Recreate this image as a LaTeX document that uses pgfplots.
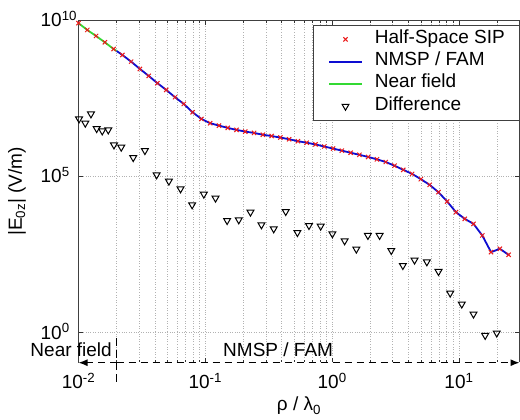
\documentclass[border=0pt]{standalone}
\usepackage{fontspec}
\setmainfont{Liberation Sans}
\usepackage{pgfplots}
\usepackage{pgfplotstable}
\pgfplotsset{compat=1.18}
\usetikzlibrary{arrows.meta}
\definecolor{mblue}{rgb}{0.05,0.05,0.82}
\definecolor{mgreen}{rgb}{0.2,0.85,0.2}
\definecolor{mred}{rgb}{0.92,0.1,0.1}
\definecolor{gridc}{rgb}{0.7,0.7,0.7}

\pgfplotstableread{
x y
0.01000 7.94e9
0.011727 4.80e9
0.013752 3.08e9
0.016127 1.94e9
0.018912 1.18e9
0.022178 7.62e8
0.026008 4.66e8
0.030500 2.72e8
0.035767 1.63e8
0.041944 9.51e7
0.049187 5.81e7
0.057682 3.39e7
0.067643 2.07e7
0.079326 1.12e7
0.09313 6.87e6
0.10921 5.01e6
0.12808 4.20e6
0.15020 3.55e6
0.17614 3.06e6
0.20656 2.70e6
0.24224 2.45e6
0.28407 2.14e6
0.33314 1.95e6
0.39068 1.74e6
0.45815 1.54e6
0.53728 1.33e6
0.63009 1.19e6
0.73892 1.05e6
0.86655 9.02e5
1.0171 7.73e5
1.1928 6.64e5
1.3988 5.69e5
1.6404 4.89e5
1.9237 4.17e5
2.2560 3.51e5
2.6457 2.88e5
3.1026 2.19e5
3.6386 1.62e5
4.2670 1.20e5
5.0040 8.15e4
5.8683 5.35e4
6.8819 3.13e4
8.0706 1.57e4
9.4646 7.18e3
11.099 4.39e3
13.017 3.03e3
15.265 1.29e3
17.901 378
20.993 483
24.619 310
}\sipdata

\pgfplotstableread{
x y
0.01000 7.94e9
0.011727 4.80e9
0.013752 3.08e9
0.016127 1.94e9
0.018912 1.18e9
0.02 1.02e9
}\neardata

\pgfplotstableread{
x y
0.02 1.02e9
0.022178 7.62e8
0.026008 4.66e8
0.030500 2.72e8
0.035767 1.63e8
0.041944 9.51e7
0.049187 5.81e7
0.057682 3.39e7
0.067643 2.07e7
0.079326 1.12e7
0.09313 6.87e6
0.10921 5.01e6
0.12808 4.20e6
0.15020 3.55e6
0.17614 3.06e6
0.20656 2.70e6
0.24224 2.45e6
0.28407 2.14e6
0.33314 1.95e6
0.39068 1.74e6
0.45815 1.54e6
0.53728 1.33e6
0.63009 1.19e6
0.73892 1.05e6
0.86655 9.02e5
1.0171 7.73e5
1.1928 6.64e5
1.3988 5.69e5
1.6404 4.89e5
1.9237 4.17e5
2.2560 3.51e5
2.6457 2.88e5
3.1026 2.19e5
3.6386 1.62e5
4.2670 1.20e5
5.0040 8.15e4
5.8683 5.35e4
6.8819 3.13e4
8.0706 1.57e4
9.4646 7.18e3
11.099 4.39e3
13.017 3.03e3
15.265 1.29e3
17.901 378
20.993 483
24.619 310
}\fardata

\pgfplotstableread{
x y
0.0101 6.87e6
0.01131 5.01e6
0.01254 9.93e6
0.01391 3.37e6
0.01539 2.84e6
0.01717 3.06e6
0.01904 1.01e6
0.02173 8.57e5
0.02701 3.99e5
0.03339 6.67e5
0.04128 1.12e5
0.0516 7.03e4
0.06377 3.99e4
0.07873 1.23e4
0.09732 2.70e4
0.1203 2.01e4
0.1485 3.87e3
0.1835 4.07e3
0.2269 7.18e3
0.2770 2.82e3
0.3462 2.10e3
0.4304 7.50e3
0.5321 1.60e3
0.6565 2.68e3
0.8117 2.56e3
1.004 1.46e3
1.254 869
1.551 472
1.914 1.29e3
2.366 1.29e3
2.925 426
3.610 141
4.462 210
5.579 185
6.896 90.8
8.524 18.5
10.52 8.26
13.01 3.95
16.08 0.82
19.85 0.977
}\diffdata

\begin{document}
\begin{tikzpicture}[font=\fontsize{19}{23}\selectfont]
\begin{axis}[
  scale only axis, width=441pt, height=342.7pt,
  xmode=log, ymode=log,
  xmin=0.01, xmax=30, ymin=0.11, ymax=1e10,
  clip=false,
  xtick={0.01,0.1,1,10},
  xticklabels={10\textsuperscript{-2},10\textsuperscript{-1},10\textsuperscript{0},10\textsuperscript{1}},
  minor xtick={0.02,0.03,0.04,0.05,0.06,0.07,0.08,0.09,0.2,0.3,0.4,0.5,0.6,0.7,0.8,0.9,2,3,4,5,6,7,8,9,20},
  ytick={1,1e5,1e10},
  yticklabels={10\rlap{\textsuperscript{0}},10\rlap{\textsuperscript{5}},10\rlap{\textsuperscript{10}}},
  yminorticks=false,
  xmajorgrids, xminorgrids, ymajorgrids,
  grid style={gridc, dotted, line width=0.6pt},
  minor grid style={gridc, dotted, line width=0.6pt},
  major tick length=5pt, minor tick length=3pt,
  tick style={black!80, line width=0.6pt},
  axis line style={black!75, line width=0.8pt},
  tick label style={font=\fontsize{19}{23}\selectfont},
  xticklabel style={anchor=base, yshift=-25.6pt, inner sep=0pt},
  yticklabel style={anchor=base east, xshift=-16.5pt, yshift=-6.3pt, inner sep=0pt},
  xlabel={ρ / λ\textsubscript{0}},
  ylabel={|E\textsubscript{0z}| (V/m)},
  label style={font=\fontsize{19}{23}\selectfont},
  xlabel style={at={(axis description cs:0.5,-0.0992)}, anchor=north, inner sep=0pt},
  ylabel style={at={(axis description cs:-0.16,0.5)}, anchor=north, inner sep=0pt},
  legend style={at={(1,0.9854)}, anchor=north east, draw=black!75, fill=white,
    inner xsep=14.5pt, inner ysep=3pt, row sep=0pt, column sep=12pt,
    nodes={inner sep=0pt, text height=15pt, text depth=7.3pt},
    font=\fontsize{19}{23}\selectfont},
  legend cell align=left,
  legend image code/.code={\draw[mark repeat=2,mark phase=2,#1] plot coordinates {(0pt,0pt) (16.5pt,0pt) (33pt,0pt)};},
]
\addlegendimage{only marks, mark=x, mark size=3pt, mred, mark options={line width=1pt}}
\addlegendentry{Half-Space SIP}
\addlegendimage{mblue, line width=1.8pt}
\addlegendentry{NMSP / FAM}
\addlegendimage{mgreen, line width=1.8pt}
\addlegendentry{Near field}
\addlegendimage{only marks, mark=triangle, mark size=4pt, mark options={rotate=180, draw=black, fill=white, line width=1pt}}
\addlegendentry{Difference}

\addplot[mgreen, line width=1.8pt, forget plot] table[x=x,y=y] {\neardata};
\addplot[mblue, line width=1.8pt, forget plot] table[x=x,y=y] {\fardata};
\addplot[only marks, mark=triangle, mark size=4pt, mark options={rotate=180, draw=black, fill=white, line width=1pt}, forget plot] table[x=x,y=y] {\diffdata};
\addplot[only marks, mark=x, mark size=3pt, mred, mark options={line width=1pt}, forget plot] table[x=x,y=y] {\sipdata};

\node[anchor=base east, inner sep=0pt] at (axis description cs:0.076,0.0187) {Near field};
\node[anchor=base west, inner sep=0pt] at (axis description cs:0.3277,0.0187) {NMSP / FAM};

\coordinate (bl) at (rel axis cs:0,0);
\coordinate (br) at (rel axis cs:1,0);
\coordinate (tr) at (rel axis cs:1,1);
\coordinate (nb) at (axis cs:0.02,0.11);
\end{axis}
\draw[white, line width=1.2pt] (bl) -- (br);
\draw[black, line width=1.2pt, dash pattern=on 7pt off 5pt, -{Latex[length=9pt,width=7pt]}] (nb) -- (bl);
\draw[black, line width=1.2pt, dash pattern=on 7pt off 5pt, -{Latex[length=9pt,width=7pt]}] (nb) -- (br);
\draw[black, line width=1pt, dash pattern=on 8pt off 4pt] ([yshift=24.7pt]nb) -- ([yshift=-19.3pt]nb);
\pgfresetboundingbox
\path ([xshift=-78.5pt,yshift=-56.3pt]bl) rectangle ([xshift=0.5pt,yshift=20pt]tr);
\end{tikzpicture}
\end{document}
